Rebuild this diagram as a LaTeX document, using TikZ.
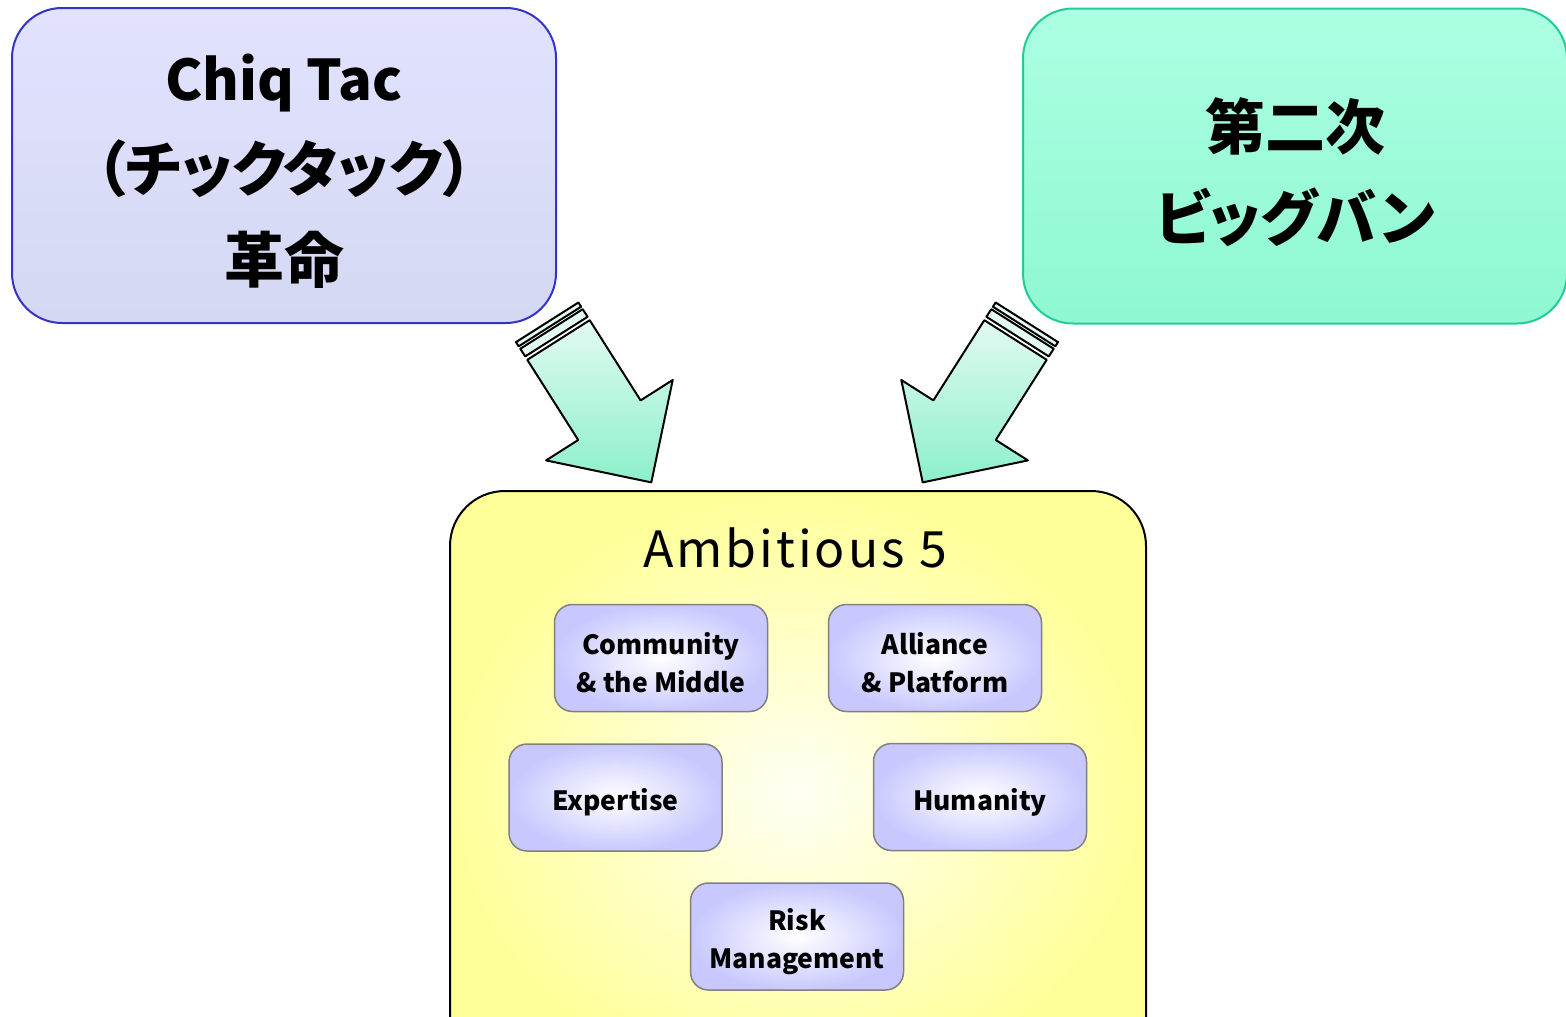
\documentclass[tikz,border=0pt]{standalone}
\usepackage{fontspec}
\setmainfont{Noto Sans CJK JP}[RawFeature=+palt]
\newfontfamily\titlefont{Noto Sans CJK JP}[LetterSpace=6]
\definecolor{lavtop}{HTML}{E2E2FF}
\definecolor{lavbot}{HTML}{D4D8F2}
\definecolor{lavline}{HTML}{3333CC}
\definecolor{minttop}{HTML}{ACFFE2}
\definecolor{mintbot}{HTML}{8EF8D2}
\definecolor{mintline}{HTML}{22CC99}
\definecolor{yelin}{HTML}{FFFFF4}
\definecolor{yelout}{HTML}{FFFF99}
\definecolor{boxlav}{HTML}{C8C8FF}
\definecolor{boxline}{HTML}{808080}
\definecolor{arrowlight}{HTML}{E2FAF2}
\definecolor{arrowdark}{HTML}{8CF0CA}
\begin{document}
\begin{tikzpicture}[x=1pt,y=-1pt,line join=round,
  toptext/.style={align=center,yshift=-6pt,font=\fontsize{60}{91}\selectfont\bfseries},
  topbox/.style={rounded corners=50pt,line width=2pt,minimum width=544pt,
    minimum height=315pt,inner sep=0pt,label={[toptext]center:#1}},
  subtext/.style={align=center,yshift=-5pt,font=\fontsize{26.5}{38}\selectfont\bfseries},
  subbox/.style={draw=boxline,rounded corners=18pt,line width=1.5pt,
    inner color=white,outer color=boxlav,minimum width=213pt,
    minimum height=107pt,inner sep=0pt,label={[subtext]center:#1}},
  blockarrow/.style={draw=black,line width=2pt,top color=arrowlight,bottom color=arrowdark}]
\useasboundingbox (0,0) rectangle (1566,1017);
% 上の二つの箱
\node[topbox={{\fontsize{56}{91}\selectfont Chiq Tac}\\（チックタック）\\革命},
  draw=lavline,top color=lavtop,bottom color=lavbot] (tictac) at (284,165.5) {};
\node[topbox={第二次\\ビッグバン},
  draw=mintline,top color=minttop,bottom color=mintbot] (bigbang) at (1295,166) {};
% 矢印（右は左の鏡像）
\foreach \s/\d in {1/0,-1/1574}{
  \begin{scope}[xshift=\d pt,xscale=\s]
    \draw[blockarrow] (527.3,359.8) -- (578.2,440.0) -- (546.1,460.4) -- (651.3,482.4)
      -- (672.7,380.0) -- (640.6,400.4) -- (589.7,320.2) -- cycle;
    \draw[line width=2pt,fill=arrowlight] (525.2,356.4) -- (587.6,316.8) -- (582.7,309.2) -- (520.3,348.8) -- cycle;
    \draw[line width=2pt,fill=arrowlight] (518.7,346.3) -- (581.1,306.7) -- (578.4,302.5) -- (516.0,342.1) -- cycle;
  \end{scope}
}
% Ambitious 5
\node[draw=black,line width=2pt,rounded corners=55pt,inner color=yelin,outer color=yelout,
  minimum width=696pt,minimum height=600pt] (ambition) at (798,791) {};
\node[font=\fontsize{50}{54}\selectfont\titlefont] (title) at (795,548) {Ambitious 5};
\node[subbox={Community\\\& the Middle}] (community) at (661,658) {};
\node[subbox={Alliance\\\& Platform}] (alliance) at (935,658) {};
\node[subbox={Expertise}] (expertise) at (615.5,797.5) {};
\node[subbox={Humanity}] (humanity) at (980,797) {};
\node[subbox={Risk\\Management}] (risk) at (797,936.5) {};
\end{tikzpicture}
\end{document}
